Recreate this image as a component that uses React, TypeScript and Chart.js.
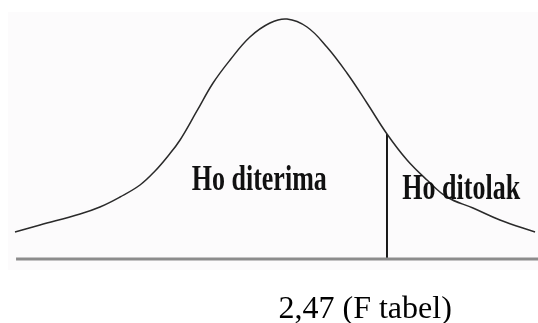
import React, { useEffect, useRef } from "react";
import { Chart, registerables } from "chart.js";

Chart.register(...registerables);

// Curve (x in F-like units, y as relative density 0..100)
const curveX = [0, 0.166, 0.432, 0.564, 0.697, 0.83, 0.93, 1.016, 1.096, 1.208, 1.315, 1.428, 1.56, 1.693, 1.806, 1.939, 2.071, 2.204, 2.337, 2.47, 2.603, 2.736, 2.868, 3.041, 3.22, 3.453];
const curveY = [11.25, 14.17, 18.75, 21.67, 25.83, 30.83, 36.67, 42.92, 49.58, 61.67, 73.33, 82.92, 92.5, 98.33, 100, 96.67, 88.33, 77.5, 65, 52.08, 41.25, 32.92, 25.83, 21.25, 16.25, 11.25];
const criticalF = 2.47;
const criticalTop = 52.08;
const baselineX = [0.007, 3.473];
const regionLabels = ["Ho diterima", "Ho ditolak"];
const regionLabelX = [1.622, 2.963];
const regionLabelY = [28.75, 25];
const axisLabel = "2,47 (F tabel)";
const axisLabelX = 2.325;
const axisLabelY = -24.5;

const X_MIN = -0.0996;
const X_MAX = 3.4727;
const Y_MIN = -26.67;
const Y_MAX = 107.92;

const textPlugin = {
  id: "texts",
  beforeDraw(chart: any) {
    const { ctx } = chart;
    const xs = chart.scales.x;
    const ys = chart.scales.y;
    ctx.save();
    ctx.fillStyle = "#fcfbfc";
    const l = xs.getPixelForValue(X_MIN) + 8;
    const t = ys.getPixelForValue(Y_MAX) + 12;
    const r = xs.getPixelForValue(X_MAX);
    const b = ys.getPixelForValue(-4.6);
    ctx.fillRect(l, t, r - l, b - t);
    ctx.restore();
  },
  afterDraw(chart: any) {
    const { ctx } = chart;
    const xs = chart.scales.x;
    const ys = chart.scales.y;
    ctx.save();
    ctx.fillStyle = "#111";
    ctx.textAlign = "center";
    ctx.textBaseline = "alphabetic";
    ctx.font = "bold 26px 'Liberation Serif', 'Times New Roman', serif";
    regionLabels.forEach((txt, i) => {
      const px = xs.getPixelForValue(regionLabelX[i]);
      const py = ys.getPixelForValue(regionLabelY[i]);
      ctx.save();
      ctx.translate(px, py);
      ctx.scale(1, 1.4);
      ctx.fillText(txt, 0, 0);
      ctx.restore();
    });
    ctx.fillStyle = "#000";
    ctx.font = "32px 'Liberation Serif', 'Times New Roman', serif";
    ctx.fillText(axisLabel, xs.getPixelForValue(axisLabelX), ys.getPixelForValue(axisLabelY));
    ctx.restore();
  },
};

export default function App() {
  const ref = useRef<HTMLCanvasElement>(null);
  useEffect(() => {
    if (!ref.current) return;
    const chart = new Chart(ref.current, {
      type: "line",
      data: {
        datasets: [
          {
            data: baselineX.map((x) => ({ x, y: 0 })),
            borderColor: "#8c8c8c",
            borderWidth: 3,
            pointRadius: 0,
          },
          {
            data: curveX.map((x, i) => ({ x, y: curveY[i] })),
            borderColor: "#2a2a2a",
            borderWidth: 1.5,
            pointRadius: 0,
            tension: 0.4,
          },
          {
            data: [
              { x: criticalF, y: 0 },
              { x: criticalF, y: criticalTop },
            ],
            borderColor: "#000",
            borderWidth: 1.8,
            pointRadius: 0,
          },
        ],
      },
      options: {
        animation: false,
        responsive: false,
        devicePixelRatio: 1,
        layout: { padding: 0 },
        plugins: { legend: { display: false }, tooltip: { enabled: false } },
        scales: {
          x: { type: "linear", display: false, min: X_MIN, max: X_MAX },
          y: { type: "linear", display: false, min: Y_MIN, max: Y_MAX },
        },
      },
      plugins: [textPlugin],
    } as any);
    return () => chart.destroy();
  }, []);
  return (
    <div style={{ position: "absolute", left: 0, top: 0, width: 538, height: 323, background: "#fff" }}>
      <canvas ref={ref} width={538} height={323} />
    </div>
  );
}
